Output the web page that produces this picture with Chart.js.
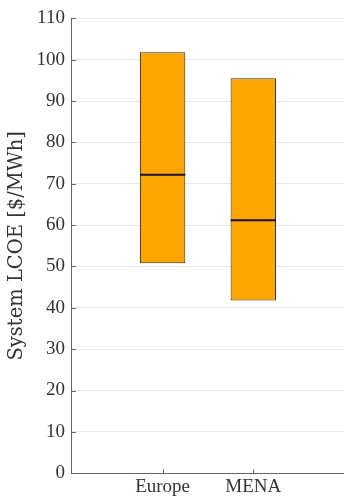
<!DOCTYPE html>
<html>
<head>
<meta charset="utf-8">
<script src="https://cdn.jsdelivr.net/npm/chart.js@4/dist/chart.umd.min.js"></script>
<style>
  html, body { margin: 0; padding: 0; background: #ffffff; overflow: hidden; }
  #wrap { width: 344px; height: 500px; }
</style>
</head>
<body>
<div id="wrap"><canvas id="c" width="344" height="500"></canvas></div>
<script>
// System LCOE ranges by region ($/MWh)
const categories = ['Europe', 'MENA'];
const lowValues = [50.8, 41.8];
const highValues = [101.8, 95.5];
const medianValues = [72.2, 61.2];
const yTickValues = [0, 10, 20, 30, 40, 50, 60, 70, 80, 90, 100, 110];
const yAxisTitle = 'System LCOE [$/MWh]';

const serif = '"Liberation Serif", "DejaVu Serif", serif';
const titleSerif = '"DejaVu Serif", "Liberation Serif", serif';

// Median line across each box plus short inward axis ticks
const boxExtras = {
  id: 'boxExtras',
  afterDatasetsDraw(chart) {
    const ctx = chart.ctx;
    const y = chart.scales.y;
    const x = chart.scales.x;
    const meta = chart.getDatasetMeta(0);
    ctx.save();
    ctx.strokeStyle = '#111111';
    ctx.lineWidth = 2;
    meta.data.forEach((bar, i) => {
      const py = y.getPixelForValue(medianValues[i]);
      ctx.beginPath();
      ctx.moveTo(bar.x - bar.width / 2, py);
      ctx.lineTo(bar.x + bar.width / 2, py);
      ctx.stroke();
    });
    ctx.strokeStyle = '#666666';
    ctx.lineWidth = 1;
    y.ticks.forEach(t => {
      const py = Math.round(y.getPixelForValue(t.value)) + 0.5;
      ctx.beginPath();
      ctx.moveTo(x.left, py);
      ctx.lineTo(x.left + 4, py);
      ctx.stroke();
    });
    categories.forEach((c, i) => {
      const px = Math.round(x.getPixelForValue(i + 1)) + 0.5;
      ctx.beginPath();
      ctx.moveTo(px, y.bottom);
      ctx.lineTo(px, y.bottom - 4);
      ctx.stroke();
    });
    ctx.restore();
  }
};

new Chart(document.getElementById('c'), {
  type: 'bar',
  data: {
    datasets: [{
      data: categories.map((c, i) => ({ x: i + 1, y: [lowValues[i], highValues[i]] })),
      backgroundColor: '#FFA500',
      borderColor: '#3a2c14',
      borderWidth: 1,
      borderSkipped: false,
      barPercentage: 0.5,
      categoryPercentage: 1
    }]
  },
  options: {
    responsive: false,
    animation: false,
    devicePixelRatio: 1,
    layout: { padding: { top: 8, right: 0, left: 5, bottom: 0 } },
    plugins: { legend: { display: false }, tooltip: { enabled: false } },
    scales: {
      x: {
        type: 'linear',
        offset: false,
        min: 0,
        max: categories.length + 1,
        afterBuildTicks(scale) {
          scale.ticks = categories.map((c, i) => ({ value: i + 1 }));
        },
        ticks: {
          callback: v => categories[v - 1] ?? '',
          font: { family: serif, size: 19 },
          color: '#333333',
          padding: 2,
          maxRotation: 0
        },
        grid: { display: false, drawTicks: false },
        border: { display: true, color: '#666666', width: 1 }
      },
      y: {
        min: 0,
        max: 110,
        afterBuildTicks(scale) {
          scale.ticks = yTickValues.map(v => ({ value: v }));
        },
        ticks: {
          font: { family: serif, size: 19 },
          color: '#333333',
          padding: 7
        },
        grid: { color: '#e8e8e8', lineWidth: 1, drawTicks: false },
        border: { display: true, color: '#666666', width: 1 },
        title: {
          display: true,
          text: yAxisTitle,
          font: { family: titleSerif, size: 19.5, weight: 'normal' },
          color: '#333333',
          padding: { top: 0, bottom: 1 }
        }
      }
    }
  },
  plugins: [boxExtras]
});
</script>
</body>
</html>
